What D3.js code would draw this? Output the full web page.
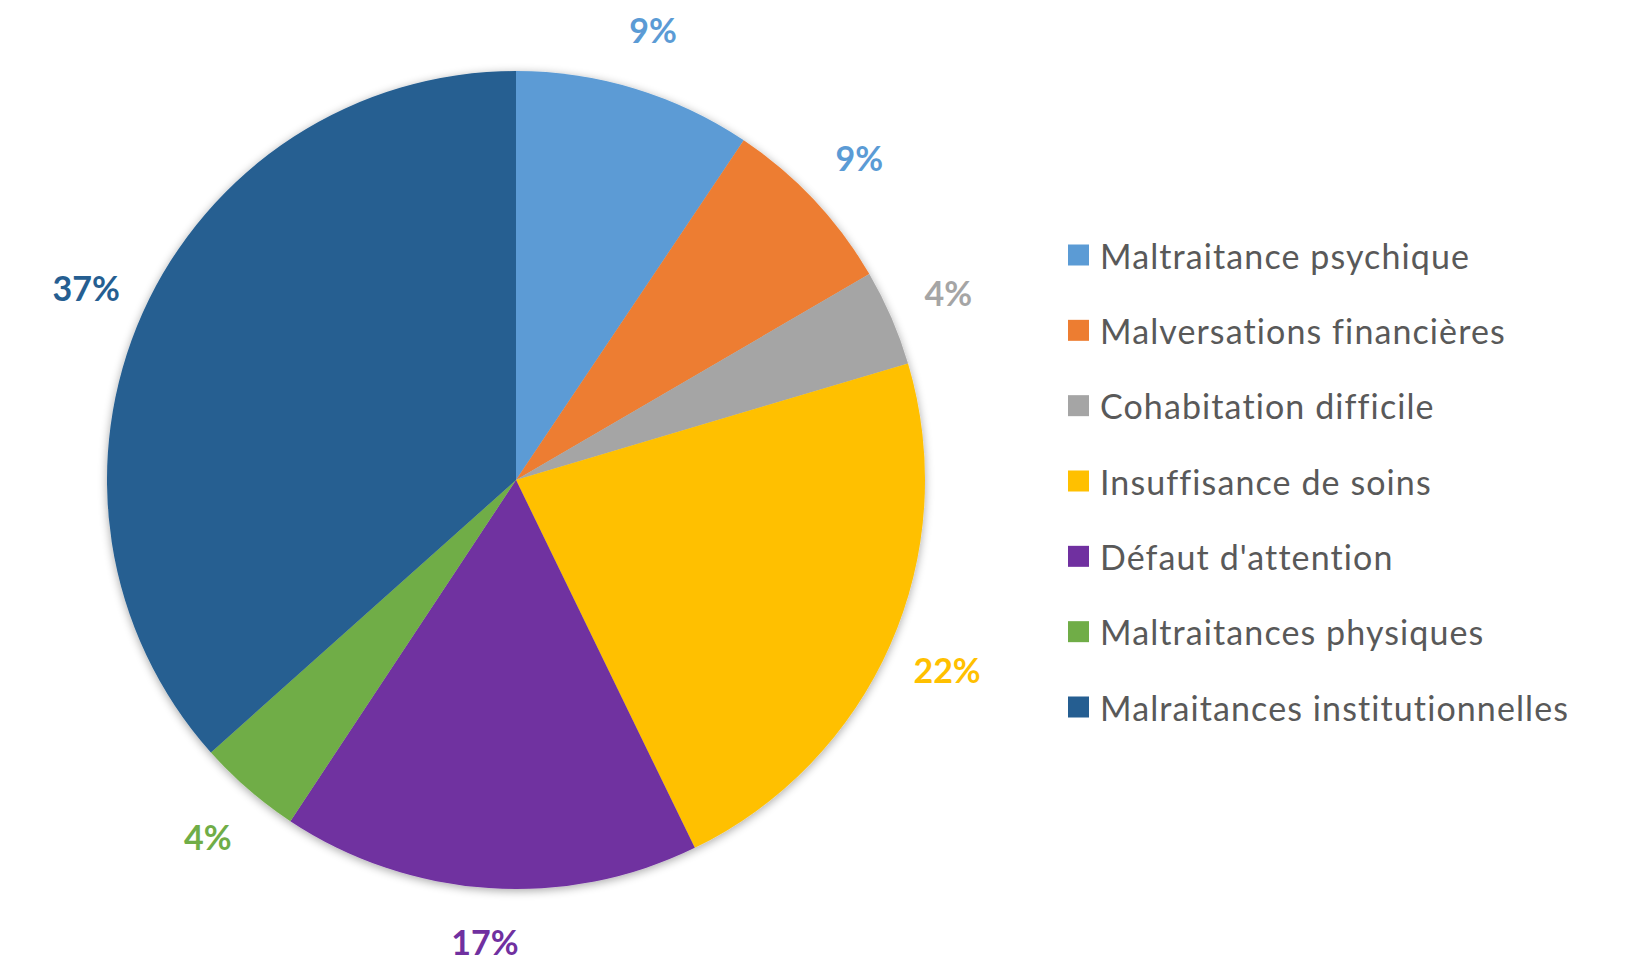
<!DOCTYPE html>
<html>
<head>
<meta charset="utf-8">
<script src="https://cdn.jsdelivr.net/npm/d3@7"></script>
<style>
  body { margin: 0; background: #fff; }
  svg { display: block; }
</style>
</head>
<body>
<div id="chart"></div>
<script>
// categories and shares
var categories = [
    "Maltraitance psychique",
    "Malversations financières",
    "Cohabitation difficile",
    "Insuffisance de soins",
    "Défaut d'attention",
    "Maltraitances physiques",
    "Malraitances institutionnelles"
];
var shares = [9.4, 7.2, 3.8, 22.4, 16.5, 4.1, 36.6];
var shareLabels = ["9%", "9%", "4%", "22%", "17%", "4%", "37%"];
var sliceColors = ["#5B9BD5", "#ED7D31", "#A5A5A5", "#FFC000", "#7030A0", "#70AD47", "#255E91"];
var labelColors = ["#5B9BD5", "#5B9BD5", "#A5A5A5", "#FFC000", "#7030A0", "#70AD47", "#255E91"];

var width = 1625, height = 965;
var cx = 516, cy = 480, radius = 409;

var svg = d3.select("#chart").append("svg")
    .attr("width", width)
    .attr("height", height);

var defs = svg.append("defs");
var shadow = defs.append("filter")
    .attr("id", "shadow")
    .attr("x", "-10%").attr("y", "-10%")
    .attr("width", "120%").attr("height", "120%");
shadow.append("feGaussianBlur")
    .attr("in", "SourceAlpha")
    .attr("stdDeviation", 5);
shadow.append("feOffset").attr("dx", 0).attr("dy", 2).attr("result", "blur");
shadow.append("feComponentTransfer")
    .append("feFuncA").attr("type", "linear").attr("slope", 0.35);
var merge = shadow.append("feMerge");
merge.append("feMergeNode");
merge.append("feMergeNode").attr("in", "SourceGraphic");

var pie = d3.pie().sort(null).value(function(d) { return d; });
var arcs = pie(shares);

var arc = d3.arc().innerRadius(0).outerRadius(radius);
var labelArc = d3.arc().innerRadius(radius + 62).outerRadius(radius + 62);

var g = svg.append("g").attr("transform", "translate(" + cx + "," + cy + ")");

g.append("g")
    .attr("filter", "url(#shadow)")
    .selectAll("path")
    .data(arcs)
    .enter()
    .append("path")
    .attr("d", arc)
    .style("fill", function(d, i) { return sliceColors[i]; });

g.selectAll("text.pct")
    .data(arcs)
    .enter()
    .append("text")
    .attr("class", "pct")
    .attr("transform", function(d) {
        var p = labelArc.centroid(d);
        // keep the label inside the page
        p[1] = Math.min(p[1], height - cy - 24);
        return "translate(" + p + ")";
    })
    .attr("text-anchor", "middle")
    .attr("dominant-baseline", "central")
    .style("font-family", "Lato, 'Open Sans', sans-serif")
    .style("font-weight", "bold")
    .style("font-size", "34px")
    .style("fill", function(d, i) { return labelColors[i]; })
    .text(function(d, i) { return shareLabels[i]; });

// legend
var legendY = d3.scalePoint()
    .domain(categories)
    .range([255, 707]);

var legend = svg.append("g").selectAll("g")
    .data(categories)
    .enter()
    .append("g")
    .attr("transform", function(d) { return "translate(1068," + legendY(d) + ")"; });

legend.append("rect")
    .attr("x", 0)
    .attr("y", -10.5)
    .attr("width", 21)
    .attr("height", 21)
    .style("fill", function(d, i) { return sliceColors[i]; });

legend.append("text")
    .attr("x", 32)
    .attr("y", 0)
    .attr("dominant-baseline", "central")
    .style("font-family", "Lato, 'Open Sans', sans-serif")
    .style("font-size", "34px")
    .style("letter-spacing", "1.1px")
    .style("fill", "#595959")
    .text(function(d) { return d; });
</script>
</body>
</html>
